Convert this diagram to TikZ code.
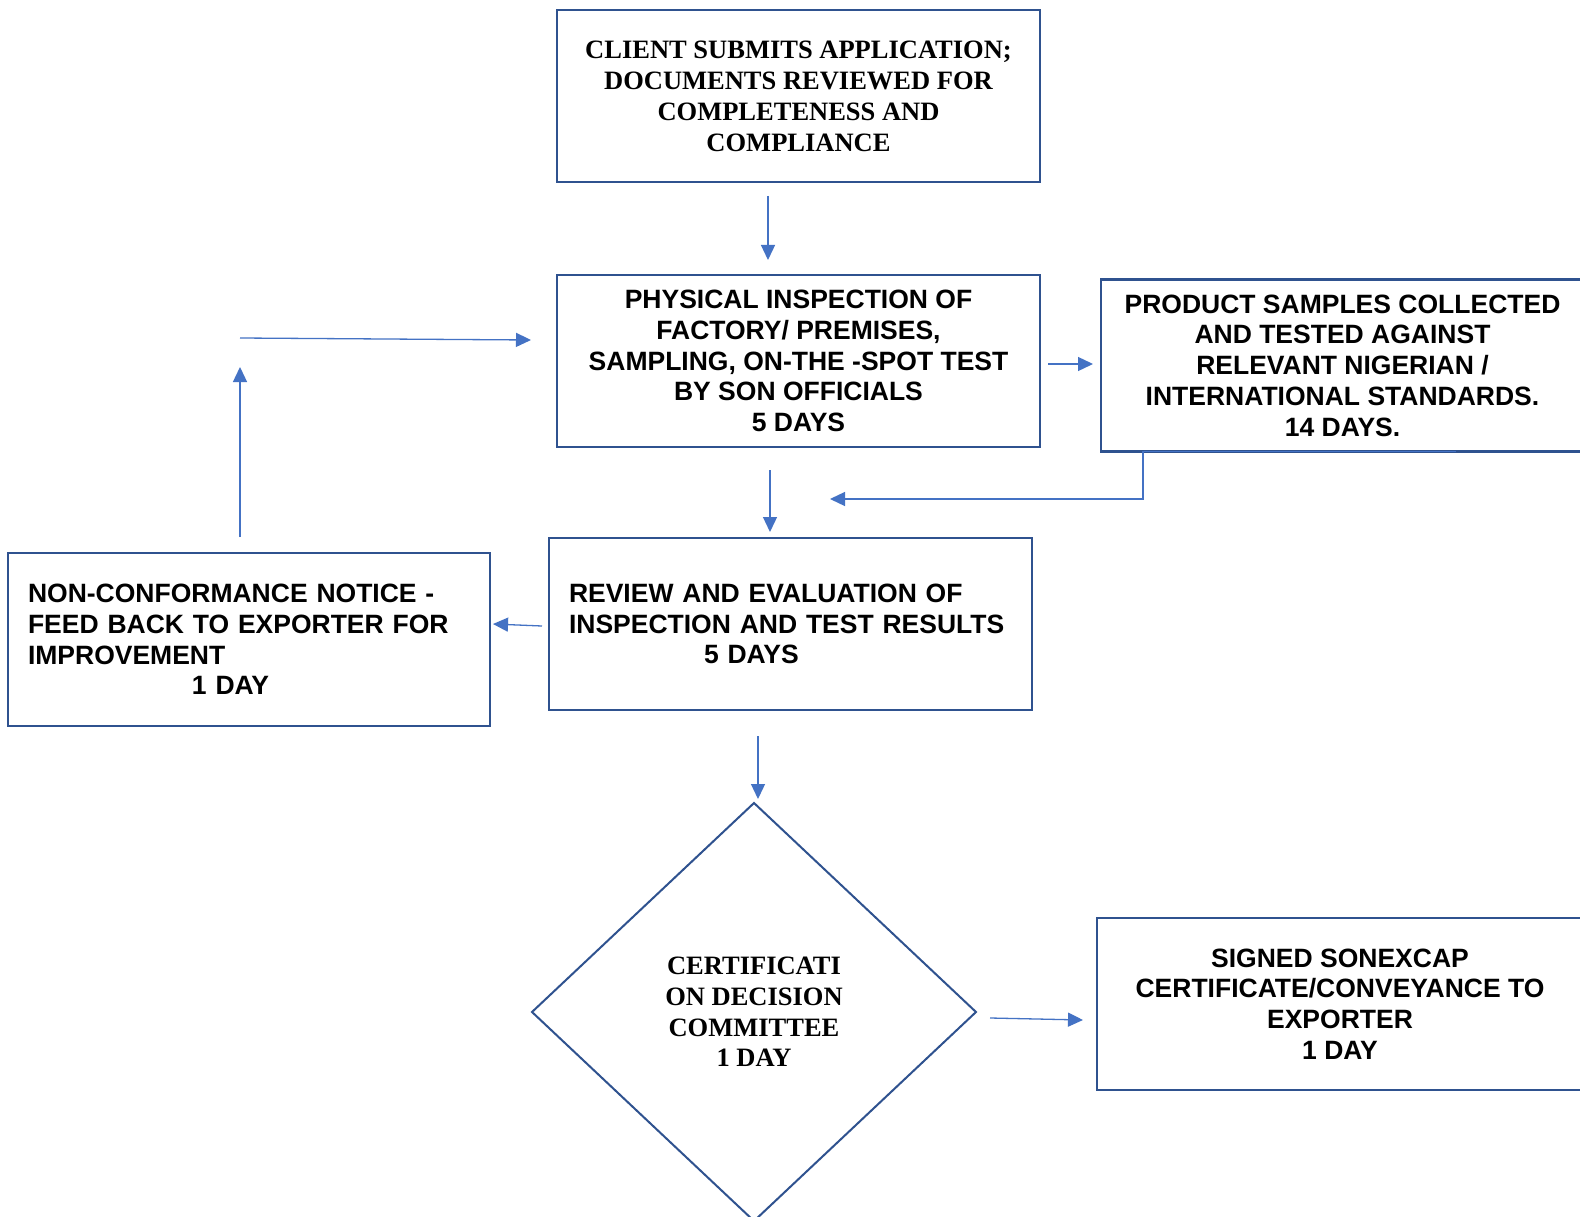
\documentclass[tikz,border=0pt]{standalone}
\usepackage{fontspec}
\setmainfont{Liberation Serif}
\setsansfont{Liberation Sans}
\usetikzlibrary{arrows.meta,shapes.geometric}
\definecolor{boxblue}{HTML}{2F528F}
\definecolor{arrblue}{HTML}{4472C4}
\begin{document}
\begin{tikzpicture}[x=1pt,y=-1pt,
 box/.style={draw=boxblue,line width=2.5pt,inner sep=0pt,outer sep=0pt,minimum width=483pt,minimum height=172pt,font=\sffamily\bfseries\fontsize{26.5}{30.7}\selectfont,align=center},
 serifbox/.style={box,font=\rmfamily\bfseries\fontsize{26.5}{31}\selectfont},
 leftbox/.style={box,align=left,inner xsep=20pt,inner ysep=0pt},
 decision/.style={diamond,draw=boxblue,line width=2pt,inner sep=0pt,outer sep=0pt,minimum width=444pt,minimum height=418pt,align=center,font=\rmfamily\bfseries\fontsize{26.5}{30.6}\selectfont},
 arr/.style={draw=arrblue,line width=1.3pt,-{Triangle[length=15pt,width=14pt]}},
 plain/.style={draw=arrblue,line width=1.3pt},
]
\useasboundingbox (0,0) rectangle (1580,1217);
\clip (0,0) rectangle (1580,1217);
\fill[white] (0,0) rectangle (1580,1217);

\node[serifbox] (b1) at (798.5,96) {CLIENT SUBMITS APPLICATION;\\DOCUMENTS REVIEWED FOR\\COMPLETENESS AND\\COMPLIANCE};
\node[box] (b2) at (798.5,361) {PHYSICAL INSPECTION OF\\FACTORY/ PREMISES,\\SAMPLING, ON-THE -SPOT TEST\\BY SON OFFICIALS\\5 DAYS};
\node[box] (b3) at (1342.5,365.5) {PRODUCT SAMPLES COLLECTED\\AND TESTED AGAINST\\RELEVANT NIGERIAN /\\INTERNATIONAL STANDARDS.\\14 DAYS.};
\node[leftbox,text width=443pt] (b4) at (790.5,624) {REVIEW AND EVALUATION OF\\INSPECTION AND TEST RESULTS\\\hspace*{135pt}5 DAYS};
\node[leftbox,text width=442pt,minimum width=482pt,minimum height=173pt] (b5) at (249,639.5) {NON-CONFORMANCE NOTICE -\\FEED BACK TO EXPORTER FOR\\IMPROVEMENT\\\hspace*{164pt}1 DAY};
\node[decision] (dm) at (754,1012) {CERTIFICATI\\ON DECISION\\COMMITTEE\\1 DAY};
\node[box,minimum width=486pt] (b6) at (1340,1004) {SIGNED SONEXCAP\\CERTIFICATE/CONVEYANCE TO\\EXPORTER\\1 DAY};

\coordinate (loopA) at (240,367);
\coordinate (loopB) at (240,338);
\coordinate (retEnd) at (830,499);

\draw[arr] ([xshift=-30.5pt,yshift=-14pt]b1.south) -- ([xshift=-30.5pt,yshift=15pt]b2.north);
\draw[arr] ([xshift=8pt,yshift=-3pt]b2.east) -- ([xshift=-8pt,yshift=1.5pt]b3.west);
\draw[arr] ([xshift=113.5pt]b3.south) -- ([xshift=-199.5pt]b3.south) |- (retEnd);
\draw[arr] ([xshift=-28.5pt,yshift=-23pt]b2.south) -- ([xshift=-20.5pt,yshift=6pt]b4.north);
\draw[arr] ([xshift=-7pt,yshift=-2pt]b4.west) -- ([xshift=3pt,yshift=15.5pt]b5.east);
\draw[arr] ([xshift=-9pt,yshift=16pt]b5.north) -- (loopA);
\draw[arr] (loopB) -- ([xshift=-26pt,yshift=21pt]b2.west);
\draw[arr] ([xshift=-32.5pt,yshift=-26pt]b4.south) -- ([xshift=4pt,yshift=4pt]dm.north);
\draw[arr] ([xshift=14pt,yshift=-6pt]dm.east) -- ([xshift=-14pt,yshift=-16pt]b6.west);
\end{tikzpicture}
\end{document}
